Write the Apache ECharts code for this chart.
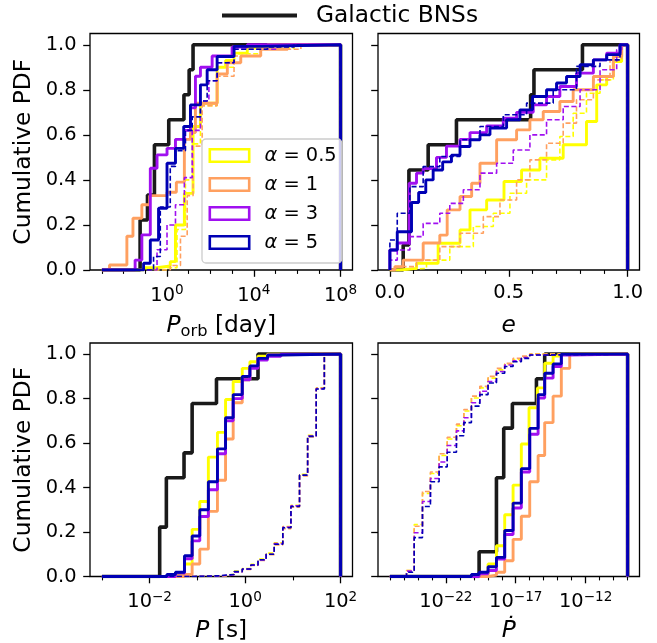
<!DOCTYPE html>
<html><head><meta charset="utf-8">
<script src="https://cdn.jsdelivr.net/npm/echarts@6/dist/echarts.min.js"></script>
<style>html,body{margin:0;padding:0;background:#fff}#c{width:657px;height:643px}</style>
</head><body><div id="c"></div><script>
// ---------- DATA (CDF step change points: [x, level from x on]) ----------
// Panel 1: log10(P_orb / day)
const porbBNS = [[-1.24,0.222],[-0.9,0.333],[-0.58,0.556],[0.08,0.667],[0.78,0.778],[1.02,0.889],[1.2,1.0]];
const porbA05 = [[-1.08,0.01],[-0.46,0.018],[0.15,0.037],[0.39,0.2],[0.8,0.34],[1.2,0.637],[1.54,0.74],[2.31,0.9],[2.7,0.93],[3.09,0.963],[3.7,0.985],[4.63,1.0]];
const porbA1  = [[-2.65,0.022],[-1.85,0.15],[-1.57,0.23],[-1.16,0.29],[-0.8,0.33],[0,0.345],[0.43,0.39],[0.8,0.58],[1.08,0.61],[1.31,0.74],[2.31,0.87],[2.78,0.92],[3.4,0.95],[4.32,0.98],[5.56,1.0]];
const porbA3  = [[-1.47,0.044],[-1.16,0.156],[-0.77,0.452],[-0.46,0.511],[0,0.54],[0.39,0.58],[0.8,0.62],[1.08,0.72],[1.31,0.86],[1.54,0.9],[2.08,0.95],[3.0,0.99],[3.7,1.0]];
const porbA5  = [[-1.08,0.03],[-0.77,0.133],[-0.39,0.274],[0,0.474],[0.39,0.54],[0.77,0.637],[1.08,0.733],[1.54,0.822],[1.85,0.889],[2.31,0.948],[3.09,0.993],[4.32,1.0]];
const porbA05d = [[0.0,0.01],[0.46,0.18],[0.85,0.4],[1.2,0.56],[1.54,0.73],[2.31,0.9],[3.09,0.96],[4.32,0.985],[5.86,1.0]];
const porbA1d  = [[0.15,0.02],[0.62,0.15],[0.93,0.33],[1.2,0.55],[1.62,0.73],[2.31,0.86],[3.09,0.95],[4.32,0.98],[6.17,0.995],[7.41,1.0]];
const porbA3d  = [[-0.46,0.09],[0,0.2],[0.39,0.29],[0.8,0.41],[1.16,0.62],[1.54,0.75],[1.93,0.84],[2.31,0.92],[3.09,0.98],[5.09,0.995],[6.17,1.0]];
const porbA5d  = [[-0.62,0.06],[-0.31,0.28],[0.15,0.46],[0.39,0.53],[0.85,0.62],[1.16,0.68],[1.54,0.75],[1.85,0.84],[2.31,0.92],[3.09,0.98],[4.63,0.99],[5.86,1.0]];

// Panel 2: eccentricity e
const eBNS = [[0.056,0.111],[0.08,0.444],[0.161,0.556],[0.28,0.667],[0.592,0.778],[0.606,0.889],[0.81,1.0]];
const eA05 = [[0.042,0.007],[0.112,0.03],[0.203,0.119],[0.295,0.178],[0.337,0.267],[0.407,0.311],[0.48,0.393],[0.554,0.444],[0.631,0.496],[0.729,0.556],[0.827,0.659],[0.87,0.822],[0.912,0.859],[0.94,0.926],[0.975,1.0]];
const eA1  = [[0.021,0.015],[0.056,0.044],[0.14,0.12],[0.21,0.155],[0.241,0.267],[0.295,0.326],[0.344,0.385],[0.379,0.474],[0.449,0.578],[0.533,0.622],[0.589,0.667],[0.645,0.704],[0.715,0.748],[0.771,0.8],[0.856,0.859],[0.94,0.948],[0.975,1.0]];
const eA3  = [[0,0.089],[0.031,0.12],[0.081,0.385],[0.112,0.43],[0.14,0.45],[0.196,0.5],[0.238,0.55],[0.295,0.58],[0.337,0.61],[0.407,0.64],[0.477,0.674],[0.533,0.7],[0.603,0.733],[0.659,0.77],[0.715,0.815],[0.785,0.874],[0.856,0.933],[0.912,0.963],[0.968,1.0]];
const eA5  = [[0,0.089],[0.031,0.17],[0.091,0.3],[0.121,0.344],[0.151,0.4],[0.182,0.444],[0.222,0.48],[0.259,0.51],[0.295,0.548],[0.337,0.578],[0.379,0.6],[0.421,0.63],[0.491,0.667],[0.547,0.711],[0.6,0.77],[0.659,0.8],[0.701,0.83],[0.743,0.859],[0.8,0.911],[0.856,0.933],[0.912,0.956],[0.968,1.0]];
const eA05d = [[0.042,0.007],[0.154,0.044],[0.252,0.104],[0.351,0.193],[0.435,0.252],[0.505,0.341],[0.575,0.4],[0.659,0.489],[0.715,0.593],[0.771,0.696],[0.827,0.785],[0.884,0.844],[0.94,0.933],[0.975,1.0]];
const eA1d  = [[0.021,0.015],[0.112,0.044],[0.21,0.104],[0.295,0.163],[0.393,0.237],[0.463,0.311],[0.533,0.4],[0.589,0.489],[0.659,0.563],[0.729,0.652],[0.785,0.756],[0.856,0.844],[0.926,0.933],[0.975,1.0]];
const eA3d  = [[0,0.044],[0.031,0.089],[0.084,0.148],[0.14,0.207],[0.21,0.252],[0.252,0.296],[0.309,0.356],[0.379,0.43],[0.449,0.474],[0.519,0.533],[0.589,0.6],[0.659,0.667],[0.729,0.726],[0.8,0.8],[0.884,0.889],[0.954,0.978],[0.975,1.0]];
const eA5d  = [[0,0.133],[0.031,0.252],[0.084,0.37],[0.14,0.459],[0.21,0.504],[0.295,0.578],[0.379,0.637],[0.477,0.689],[0.575,0.741],[0.687,0.8],[0.785,0.904],[0.884,0.933],[0.968,1.0]];

// Panel 3: log10(P / s)
const pBNS = [[-1.79,0.222],[-1.65,0.444],[-1.28,0.556],[-1.11,0.778],[-0.6,0.889],[0.27,1.0]];
const pA05 = [[-1.46,0.012],[-1.27,0.056],[-1.11,0.212],[-0.95,0.337],[-0.77,0.537],[-0.58,0.648],[-0.41,0.796],[-0.25,0.877],[-0.06,0.936],[0.1,0.966],[0.27,0.991],[0.47,1.0]];
const pA1  = [[-1.27,0.009],[-1.11,0.056],[-0.95,0.123],[-0.77,0.293],[-0.58,0.433],[-0.41,0.618],[-0.25,0.781],[-0.06,0.885],[0.1,0.944],[0.27,0.981],[0.47,0.997],[0.75,1.0]];
const pA3  = [[-1.46,0.015],[-1.27,0.08],[-1.11,0.16],[-0.95,0.27],[-0.77,0.39],[-0.58,0.552],[-0.41,0.7],[-0.25,0.8],[-0.06,0.885],[0.1,0.936],[0.27,0.973],[0.47,0.99],[0.75,1.0]];
const pA5  = [[-1.64,0.009],[-1.46,0.019],[-1.27,0.093],[-1.11,0.182],[-0.95,0.3],[-0.77,0.426],[-0.58,0.574],[-0.41,0.714],[-0.25,0.818],[-0.06,0.9],[0.1,0.947],[0.27,0.981],[0.47,0.996],[0.75,1.0]];
const pA05d = [[-0.9,0.003],[-0.41,0.01],[-0.23,0.024],[-0.06,0.036],[0.12,0.055],[0.27,0.078],[0.44,0.105],[0.61,0.152],[0.79,0.225],[0.96,0.32],[1.14,0.46],[1.31,0.635],[1.49,0.848],[1.66,1.0]];
const pA1d  = [[-0.9,0.002],[-0.41,0.008],[-0.23,0.02],[-0.06,0.032],[0.12,0.05],[0.27,0.072],[0.44,0.098],[0.61,0.142],[0.79,0.215],[0.96,0.312],[1.14,0.452],[1.31,0.628],[1.49,0.846],[1.66,1.0]];
const pA3d  = [[-1.07,0.002],[-0.58,0.008],[-0.23,0.021],[-0.06,0.033],[0.12,0.051],[0.27,0.074],[0.44,0.1],[0.61,0.148],[0.79,0.222],[0.96,0.318],[1.14,0.455],[1.31,0.632],[1.49,0.845],[1.66,1.0]];
const pA5d  = [[-1.07,0.003],[-0.58,0.009],[-0.23,0.022],[-0.06,0.034],[0.12,0.052],[0.27,0.075],[0.44,0.1],[0.61,0.145],[0.79,0.219],[0.96,0.315],[1.14,0.456],[1.31,0.63],[1.49,0.843],[1.66,1.0]];

// Panel 4: log10(Pdot)
const pdBNS = [[-19.62,0.111],[-18.38,0.444],[-17.86,0.667],[-17.24,0.778],[-15.52,0.889],[-14.93,1.0]];
const pdA05 = [[-19.62,0.005],[-18.98,0.056],[-18.38,0.138],[-17.79,0.278],[-17.19,0.411],[-16.6,0.596],[-16.05,0.759],[-15.45,0.848],[-14.93,0.959],[-14.33,0.991],[-13.74,1.0]];
const pdA1  = [[-18.98,0.006],[-18.38,0.019],[-17.79,0.071],[-17.19,0.167],[-16.6,0.271],[-16.0,0.426],[-15.4,0.544],[-14.93,0.692],[-14.33,0.811],[-13.74,0.936],[-13.14,1.0]];
const pdA3  = [[-19.62,0.012],[-18.98,0.027],[-18.38,0.078],[-17.79,0.189],[-17.19,0.308],[-16.6,0.47],[-16.0,0.64],[-15.4,0.803],[-14.93,0.892],[-14.33,0.944],[-13.74,0.996],[-13.14,1.0]];
const pdA5  = [[-20.17,0.009],[-19.62,0.019],[-18.98,0.044],[-18.38,0.086],[-17.79,0.207],[-17.19,0.33],[-16.6,0.485],[-16.0,0.666],[-15.4,0.818],[-14.93,0.914],[-14.33,0.956],[-13.74,1.0]];
const pdA05d = [[-24.81,0.027],[-24.26,0.234],[-23.67,0.374],[-23.1,0.463],[-22.48,0.544],[-21.9,0.618],[-21.24,0.678],[-20.71,0.744],[-20.17,0.803],[-19.57,0.848],[-18.98,0.892],[-18.38,0.929],[-17.79,0.956],[-17.19,0.976],[-16.6,0.988],[-16.0,1.0]];
const pdA1d  = [[-24.81,0.027],[-24.26,0.226],[-23.67,0.382],[-23.1,0.47],[-22.48,0.552],[-21.9,0.626],[-21.24,0.685],[-20.71,0.751],[-20.17,0.811],[-19.57,0.855],[-18.98,0.9],[-18.38,0.936],[-17.79,0.959],[-17.19,0.981],[-16.6,0.991],[-16.0,1.0]];
const pdA3d  = [[-24.81,0.024],[-24.26,0.197],[-23.67,0.337],[-23.1,0.441],[-22.48,0.515],[-21.9,0.589],[-21.24,0.655],[-20.71,0.714],[-20.17,0.781],[-19.57,0.833],[-18.98,0.877],[-18.38,0.922],[-17.79,0.951],[-17.19,0.97],[-16.6,0.985],[-16.0,0.996],[-15.4,1.0]];
const pdA5d  = [[-24.81,0.019],[-24.26,0.175],[-23.67,0.315],[-23.1,0.426],[-22.48,0.493],[-21.9,0.559],[-21.24,0.633],[-20.71,0.692],[-20.17,0.766],[-19.57,0.818],[-18.98,0.87],[-18.38,0.914],[-17.79,0.944],[-17.19,0.966],[-16.6,0.981],[-16.0,0.996],[-14.93,1.0]];

// Labels / ticks
const alphaNames = ['α = 0.5', 'α = 1', 'α = 3', 'α = 5'];
const bnsName = 'Galactic BNSs';
const yTicks = [0, 0.2, 0.4, 0.6, 0.8, 1.0];
const porbMajor = [0, 4, 8],        porbMinor = [-3, -2, -1, 1, 2, 3, 5, 6, 7];
const eMajor = [0, 0.5, 1.0],       eMinor = [0.1, 0.2, 0.3, 0.4, 0.6, 0.7, 0.8, 0.9];
const pMajor = [-2, 0, 2],          pMinor = [-3, -1, 1];
const pdMajor = [-22, -17, -12],    pdMinor = [-26,-25,-24,-23,-21,-20,-19,-18,-16,-15,-14,-13,-11,-10,-9];

// ---------- STYLE ----------
const FONT = 'DejaVu Sans';
const alphaColors = ['#ffff00', '#ffa060', '#a010f0', '#0000b4'];
const bnsColor = '#1a1a1a';
const hollowRect = 'path://M0,0H42V15H0Z M2.6,2.6V12.4H39.4V2.6Z';

function stepLine(pts, x0, x1) {
  const out = [[x0, 0]];
  let y = 0;
  for (const [x, v] of pts) { out.push([x, y]); out.push([x, v]); y = v; }
  out.push([x1, y]); out.push([x1, 0]);
  return out;
}
function supLabel(v) {
  const n = Math.round(v);
  return '{b|10}{s|' + (n < 0 ? '\u2212' + (-n) : String(n)) + '}';
}
const tickRich = {
  b: { fontSize: 19.4, fontFamily: FONT, color: '#000', lineHeight: 24 },
  s: { fontSize: 13.6, fontFamily: FONT, color: '#000', lineHeight: 10, verticalAlign: 'top' }
};
const nameRich = {
  i: { fontSize: 23.3, fontFamily: FONT, fontStyle: 'italic', color: '#000', lineHeight: 28 },
  s: { fontSize: 16.3, fontFamily: FONT, color: '#000', lineHeight: 14, verticalAlign: 'bottom' },
  n: { fontSize: 23.3, fontFamily: FONT, color: '#000', lineHeight: 28 }
};

const panels = [
  { grid: { left: 90, top: 33.5, width: 262.5, height: 236.5 }, xmin: -3.55, xmax: 8.55, lo: -3, hi: 8, log: true,
    major: porbMajor, minor: porbMinor, name: '{i|P}{s|orb}{n| [day]}', nameGap: 42, ylab: true,
    bns: porbBNS, solid: [porbA05, porbA1, porbA3, porbA5], dashed: [porbA05d, porbA1d, porbA3d, porbA5d] },
  { grid: { left: 378, top: 33.5, width: 261.5, height: 236.5 }, xmin: -0.05, xmax: 1.05, lo: 0, hi: 1, log: false,
    major: eMajor, minor: eMinor, name: '{i|e}', nameGap: 42, ylab: false,
    bns: eBNS, solid: [eA05, eA1, eA3, eA5], dashed: [eA05d, eA1d, eA3d, eA5d] },
  { grid: { left: 90, top: 343, width: 262.5, height: 236.5 }, xmin: -3.25, xmax: 2.25, lo: -3, hi: 2, log: true,
    major: pMajor, minor: pMinor, name: '{i|P}{n| [s]}', nameGap: 40, ylab: true,
    bns: pBNS, solid: [pA05, pA1, pA3, pA5], dashed: [pA05d, pA1d, pA3d, pA5d] },
  { grid: { left: 378, top: 343, width: 261.5, height: 236.5 }, xmin: -26.85, xmax: -8.15, lo: -26, hi: -9, log: true,
    major: pdMajor, minor: pdMinor, name: '{i|\u1E56}', nameGap: 40, ylab: false,
    bns: pdBNS, solid: [pdA05, pdA1, pdA3, pdA5], dashed: [pdA05d, pdA1d, pdA3d, pdA5d] }
];

const grids = [], xAxes = [], yAxes = [], series = [];
panels.forEach((p, i) => {
  grids.push(Object.assign({ show: true, borderColor: '#000', borderWidth: 1.3, backgroundColor: 'transparent' }, p.grid));
  // major x axis (data axis)
  xAxes.push({
    type: 'value', gridIndex: i, min: p.xmin, max: p.xmax, position: 'bottom',
    axisLine: { show: false, onZero: false }, splitLine: { show: false },
    axisTick: { show: true, customValues: p.major, length: 6.8, lineStyle: { color: '#000', width: 1.3 } },
    axisLabel: {
      show: true, customValues: p.major, margin: 13.5, color: '#000', fontSize: 19.4, fontFamily: FONT,
      formatter: p.log ? supLabel : (v => v.toFixed(1)), rich: tickRich
    },
    name: p.name, nameLocation: 'middle', nameGap: p.nameGap,
    nameTextStyle: { rich: nameRich, fontSize: 23.3, fontFamily: FONT, color: '#000' }
  });
  // minor ticks axis
  xAxes.push({
    type: 'value', gridIndex: i, min: p.xmin, max: p.xmax, position: 'bottom',
    axisLine: { show: false, onZero: false }, splitLine: { show: false }, axisLabel: { show: false },
    axisTick: { show: true, customValues: p.minor, length: 3.9, lineStyle: { color: '#000', width: 1.1 } }
  });
  yAxes.push({
    type: 'value', gridIndex: i, min: 0, max: 1.05, position: 'left',
    axisLine: { show: false, onZero: false }, splitLine: { show: false },
    axisTick: { show: true, customValues: yTicks, length: 6.8, lineStyle: { color: '#000', width: 1.3 } },
    axisLabel: { show: p.ylab, customValues: yTicks, formatter: v => v.toFixed(1), margin: 13.5,
      color: '#000', fontSize: 19.4, fontFamily: FONT },
    name: p.ylab ? 'Cumulative PDF' : '', nameLocation: 'middle', nameGap: 55, nameRotate: 90,
    nameTextStyle: { fontSize: 23.3, fontFamily: FONT, color: '#000' }
  });
  const xi = i * 2;
  series.push({
    type: 'line', name: bnsName, xAxisIndex: xi, yAxisIndex: i, data: stepLine(p.bns, p.lo, p.hi),
    symbol: 'none', silent: true, animation: false,
    lineStyle: { color: bnsColor, width: 3.6 }, itemStyle: { color: bnsColor }
  });
  for (let k = 0; k < 4; k++) {
    series.push({
      type: 'line', name: alphaNames[k], xAxisIndex: xi, yAxisIndex: i, data: stepLine(p.solid[k], p.lo, p.hi),
      symbol: 'none', silent: true, animation: false,
      lineStyle: { color: alphaColors[k], width: 2.9 }, itemStyle: { color: alphaColors[k] }
    });
    series.push({
      type: 'line', name: alphaNames[k] + ' dashed', xAxisIndex: xi, yAxisIndex: i, data: stepLine(p.dashed[k], p.lo, p.hi),
      symbol: 'none', silent: true, animation: false,
      lineStyle: { color: alphaColors[k], width: 1.6, type: [5, 2.5] }, itemStyle: { color: alphaColors[k] }
    });
  }
});

const chart = echarts.init(document.getElementById('c'), null, { renderer: 'canvas' });
chart.setOption({
  animation: false,
  backgroundColor: '#fff',
  grid: grids, xAxis: xAxes, yAxis: yAxes, series: series,
  legend: [
    {
      data: [bnsName], left: 222, top: 1.5, padding: 0, selectedMode: false,
      icon: 'rect', itemWidth: 75, itemHeight: 4,
      itemStyle: { color: bnsColor, borderWidth: 0 },
      textStyle: { fontSize: 23.3, fontFamily: FONT, color: '#000', lineHeight: 28, padding: [0, 0, 0, 14] }
    },
    {
      data: alphaNames.map((n, k) => ({ name: n, icon: hollowRect, itemStyle: { color: alphaColors[k], borderWidth: 0 } })),
      orient: 'vertical', left: 202, top: 139, padding: [6.5, 5, 10.5, 6.5],
      itemGap: 9, itemWidth: 42, itemHeight: 15, selectedMode: false, symbolKeepAspect: false,
      backgroundColor: 'rgba(255,255,255,0.8)', borderColor: '#cccccc', borderWidth: 1.3, borderRadius: 4,
      formatter: name => '{a|\u03B1}' + name.slice(1),
      textStyle: { fontSize: 19.4, fontFamily: FONT, color: '#000', lineHeight: 20, padding: [0, 0, 0, 9],
        rich: { a: { fontSize: 19.4, fontFamily: FONT, fontStyle: 'italic', color: '#000', lineHeight: 20 } } }
    }
  ]
});
</script></body></html>
